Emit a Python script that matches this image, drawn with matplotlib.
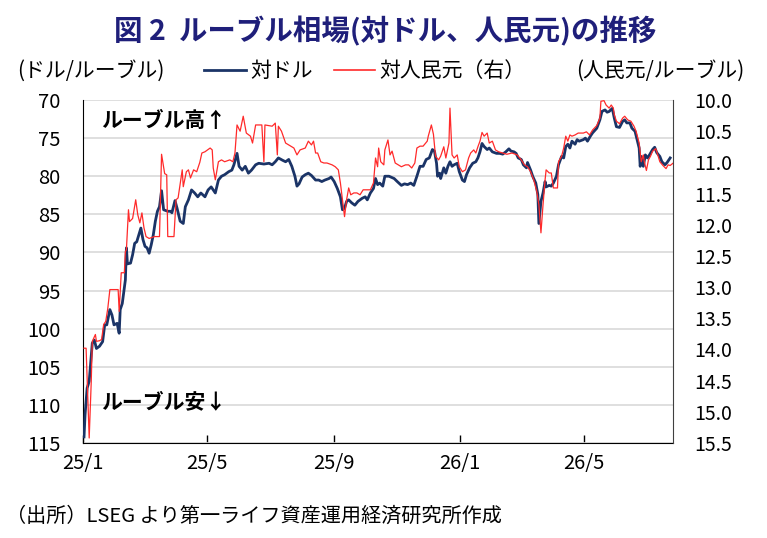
import matplotlib
matplotlib.use('Agg')
import matplotlib.pyplot as plt
import matplotlib.ticker as mticker
from matplotlib.lines import Line2D
import pandas as pd

# ルーブル/ドル (左軸)
usd_dates = [
    '2025-01-02', '2025-01-03', '2025-01-05', '2025-01-07', '2025-01-10', '2025-01-12', '2025-01-14', '2025-01-17', '2025-01-20', '2025-01-22', '2025-01-24', '2025-01-27', '2025-01-29', '2025-01-31',
    '2025-02-03', '2025-02-05', '2025-02-06', '2025-02-08', '2025-02-11', '2025-02-12', '2025-02-13', '2025-02-16', '2025-02-18', '2025-02-20', '2025-02-22', '2025-02-24', '2025-02-26', '2025-02-28',
    '2025-03-02', '2025-03-04', '2025-03-06', '2025-03-08', '2025-03-10', '2025-03-12', '2025-03-14', '2025-03-16', '2025-03-18', '2025-03-20', '2025-03-22', '2025-03-24', '2025-03-27', '2025-03-28', '2025-03-31',
    '2025-04-02', '2025-04-05', '2025-04-08', '2025-04-10', '2025-04-13', '2025-04-16', '2025-04-19', '2025-04-22', '2025-04-25', '2025-04-29',
    '2025-05-02', '2025-05-05', '2025-05-09', '2025-05-12', '2025-05-15', '2025-05-18', '2025-05-22', '2025-05-25', '2025-05-27', '2025-05-30',
    '2025-06-01', '2025-06-04', '2025-06-07', '2025-06-10', '2025-06-13', '2025-06-17', '2025-06-20', '2025-06-25', '2025-06-30',
    '2025-07-03', '2025-07-06', '2025-07-09', '2025-07-13', '2025-07-16', '2025-07-19', '2025-07-22', '2025-07-25', '2025-07-27', '2025-07-29',
    '2025-08-01', '2025-08-04', '2025-08-07', '2025-08-10', '2025-08-14', '2025-08-17', '2025-08-20', '2025-08-23', '2025-08-27', '2025-08-29',
    '2025-09-01', '2025-09-04', '2025-09-07', '2025-09-09', '2025-09-11', '2025-09-13', '2025-09-15', '2025-09-18', '2025-09-21', '2025-09-24', '2025-09-28',
    '2025-10-01', '2025-10-03', '2025-10-06', '2025-10-09', '2025-10-11', '2025-10-13', '2025-10-15', '2025-10-18', '2025-10-20', '2025-10-24', '2025-10-29',
    '2025-11-01', '2025-11-05', '2025-11-08', '2025-11-11', '2025-11-14', '2025-11-17', '2025-11-20', '2025-11-23', '2025-11-26', '2025-11-29',
    '2025-12-02', '2025-12-05', '2025-12-07', '2025-12-09', '2025-12-10', '2025-12-12', '2025-12-13', '2025-12-16', '2025-12-18', '2025-12-20', '2025-12-22', '2025-12-24', '2025-12-26', '2025-12-29', '2025-12-31',
    '2026-01-03', '2026-01-05', '2026-01-07', '2026-01-10', '2026-01-13', '2026-01-16', '2026-01-18', '2026-01-20', '2026-01-22', '2026-01-24', '2026-01-27', '2026-01-29',
    '2026-02-01', '2026-02-05', '2026-02-08', '2026-02-11', '2026-02-14', '2026-02-17', '2026-02-19', '2026-02-22', '2026-02-24', '2026-02-26',
    '2026-03-01', '2026-03-03', '2026-03-06', '2026-03-07', '2026-03-10', '2026-03-12', '2026-03-15', '2026-03-17', '2026-03-18', '2026-03-20', '2026-03-22', '2026-03-24', '2026-03-25', '2026-03-28', '2026-03-30',
    '2026-04-01', '2026-04-04', '2026-04-06', '2026-04-09', '2026-04-11', '2026-04-13', '2026-04-15', '2026-04-17', '2026-04-19', '2026-04-22', '2026-04-24', '2026-04-26', '2026-04-30',
    '2026-05-02', '2026-05-04', '2026-05-07', '2026-05-09', '2026-05-13', '2026-05-16', '2026-05-18', '2026-05-21', '2026-05-23', '2026-05-25', '2026-05-28', '2026-05-30',
    '2026-06-01', '2026-06-04', '2026-06-07', '2026-06-09', '2026-06-11', '2026-06-14', '2026-06-16', '2026-06-19', '2026-06-21', '2026-06-23', '2026-06-24', '2026-06-25', '2026-06-27', '2026-06-29',
    '2026-07-01', '2026-07-03', '2026-07-06', '2026-07-08', '2026-07-10', '2026-07-13', '2026-07-15', '2026-07-18', '2026-07-20', '2026-07-22', '2026-07-23',
]
usd_values = [
    114.2, 111.3, 107.8, 106.9, 101.9, 101.5, 102.6, 102.3, 101.7, 99.5, 99.5, 97.5, 98.2, 99.5,
    99.3, 100.6, 97.5, 96.7, 93.6, 89.4, 91.5, 91.4, 90.3, 88.8, 88.6, 87.7, 86.8, 88.3,
    89.2, 89.4, 90.1, 89.0, 87.7, 85.9, 84.6, 84.0, 81.9, 84.4, 84.5, 84.6, 84.6, 84.8, 83.2,
    84.2, 85.9, 86.2, 84.0, 83.1, 81.8, 82.2, 82.7, 82.2, 82.7,
    81.8, 81.4, 82.2, 80.5, 80.0, 79.8, 79.4, 79.2, 78.5, 77.0,
    78.7, 79.2, 78.7, 79.6, 79.2, 78.5, 78.3, 78.4, 78.3,
    78.5, 78.1, 77.6, 77.9, 78.1, 77.8, 78.7, 80.0, 81.3, 81.0,
    80.1, 79.8, 79.6, 79.9, 80.5, 80.5, 80.7, 80.5, 80.3, 80.1,
    80.7, 81.6, 82.7, 84.4, 84.2, 83.3, 83.1, 83.5, 83.8, 83.3, 82.9,
    82.7, 83.1, 82.2, 81.6, 80.3, 81.1, 80.9, 81.3, 80.0, 80.0, 80.3,
    80.7, 81.2, 81.0, 81.1, 80.9, 81.2, 80.0, 78.7, 78.7, 77.8,
    77.6, 76.5, 76.7, 78.3, 80.0, 79.6, 80.3, 78.9, 79.6, 78.7, 78.1, 78.7, 78.5, 78.3, 79.4,
    80.5, 80.7, 79.8, 78.9, 78.3, 78.1, 77.6, 76.8, 75.7, 76.1, 76.5, 76.3,
    76.8, 77.0, 77.0, 77.1, 76.8, 76.4, 76.7, 76.8, 77.0, 77.6,
    77.8, 78.5, 78.9, 78.2, 79.2, 80.0, 80.9, 82.4, 86.2, 83.3, 82.2, 80.7, 81.4, 81.2, 81.3,
    80.9, 80.0, 78.5, 77.4, 77.6, 76.1, 75.8, 76.3, 75.4, 75.8, 75.2, 75.4, 75.2,
    75.0, 75.4, 74.7, 74.3, 73.7, 72.6, 71.5, 71.3, 71.6, 71.5, 71.1, 72.4,
    73.5, 73.6, 72.8, 72.6, 73.0, 73.0, 73.7, 74.1, 75.2, 76.3, 78.7, 77.4, 78.7, 77.2,
    77.6, 77.2, 76.5, 76.2, 76.9, 77.4, 78.1, 78.5, 78.2, 77.8, 77.6,
]

# ルーブル/人民元 (右軸)
cny_dates = [
    '2025-01-02', '2025-01-04', '2025-01-07', '2025-01-09', '2025-01-10', '2025-01-13', '2025-01-14', '2025-01-17', '2025-01-19', '2025-01-21', '2025-01-23', '2025-01-25', '2025-01-27',
    '2025-02-04', '2025-02-05', '2025-02-07', '2025-02-10', '2025-02-11', '2025-02-12', '2025-02-14', '2025-02-15', '2025-02-18', '2025-02-21', '2025-02-23', '2025-02-25', '2025-02-27',
    '2025-03-01', '2025-03-03', '2025-03-06', '2025-03-11', '2025-03-16', '2025-03-18', '2025-03-21', '2025-03-23', '2025-03-24', '2025-03-30',
    '2025-04-01', '2025-04-03', '2025-04-05', '2025-04-07', '2025-04-08', '2025-04-11', '2025-04-13', '2025-04-15', '2025-04-18', '2025-04-21', '2025-04-24', '2025-04-26', '2025-04-29',
    '2025-05-04', '2025-05-06', '2025-05-07', '2025-05-09', '2025-05-12', '2025-05-15', '2025-05-18', '2025-05-23', '2025-05-26', '2025-05-28', '2025-05-30',
    '2025-06-02', '2025-06-05', '2025-06-08', '2025-06-12', '2025-06-14', '2025-06-17', '2025-06-23', '2025-06-25', '2025-06-26',
    '2025-07-03', '2025-07-06', '2025-07-08', '2025-07-09', '2025-07-12', '2025-07-16', '2025-07-19', '2025-07-24', '2025-07-27', '2025-07-30',
    '2025-08-04', '2025-08-07', '2025-08-10', '2025-08-12', '2025-08-14', '2025-08-16', '2025-08-19', '2025-08-22', '2025-08-25', '2025-08-30',
    '2025-09-02', '2025-09-05', '2025-09-07', '2025-09-09', '2025-09-11', '2025-09-13', '2025-09-15', '2025-09-17', '2025-09-20', '2025-09-23', '2025-09-26', '2025-09-29',
    '2025-10-06', '2025-10-09', '2025-10-11', '2025-10-13', '2025-10-14', '2025-10-16', '2025-10-19', '2025-10-20', '2025-10-23', '2025-10-25', '2025-10-27', '2025-10-30',
    '2025-11-02', '2025-11-05', '2025-11-09', '2025-11-12', '2025-11-15', '2025-11-18', '2025-11-20', '2025-11-23', '2025-11-26', '2025-11-30',
    '2025-12-01', '2025-12-04', '2025-12-06', '2025-12-08', '2025-12-11', '2025-12-13', '2025-12-16', '2025-12-18', '2025-12-21', '2025-12-22', '2025-12-24', '2025-12-26', '2025-12-29', '2025-12-31',
    '2026-01-03', '2026-01-06', '2026-01-09', '2026-01-11', '2026-01-14', '2026-01-16', '2026-01-18', '2026-01-20', '2026-01-22', '2026-01-24', '2026-01-27', '2026-01-29',
    '2026-02-01', '2026-02-04', '2026-02-07', '2026-02-11', '2026-02-15', '2026-02-20', '2026-02-25',
    '2026-03-01', '2026-03-04', '2026-03-07', '2026-03-10', '2026-03-13', '2026-03-16', '2026-03-18', '2026-03-20', '2026-03-22', '2026-03-24', '2026-03-25', '2026-03-28', '2026-03-30',
    '2026-04-01', '2026-04-05', '2026-04-06', '2026-04-09', '2026-04-11', '2026-04-13', '2026-04-15', '2026-04-17', '2026-04-19', '2026-04-22', '2026-04-25', '2026-04-30',
    '2026-05-03', '2026-05-06', '2026-05-09', '2026-05-13', '2026-05-16', '2026-05-17', '2026-05-20', '2026-05-22', '2026-05-25', '2026-05-27', '2026-05-29', '2026-05-30',
    '2026-06-01', '2026-06-04', '2026-06-07', '2026-06-09', '2026-06-12', '2026-06-15', '2026-06-18', '2026-06-20', '2026-06-23', '2026-06-25', '2026-06-27', '2026-06-28', '2026-06-30',
    '2026-07-02', '2026-07-04', '2026-07-06', '2026-07-09', '2026-07-11', '2026-07-13', '2026-07-16', '2026-07-19', '2026-07-21', '2026-07-23', '2026-07-26',
]
cny_values = [
    13.98, 13.98, 15.42, 14.51, 13.87, 13.76, 13.87, 13.86, 13.84, 13.60, 13.55, 13.34, 13.04,
    13.04, 13.39, 12.77, 12.77, 12.43, 12.40, 11.76, 11.95, 11.90, 11.60, 11.84, 11.97, 11.81,
    12.05, 12.19, 12.22, 12.19, 12.19, 10.87, 11.18, 11.20, 12.19, 12.19,
    11.60, 11.57, 11.35, 11.12, 11.39, 11.15, 11.12, 11.25, 11.12, 11.15, 11.00, 10.85, 10.83,
    10.77, 10.80, 11.09, 11.28, 10.99, 10.96, 10.99, 10.96, 10.99, 10.85, 10.40,
    10.50, 10.26, 10.53, 10.58, 10.69, 10.40, 10.40, 10.99, 10.40,
    10.42, 10.37, 10.88, 10.42, 10.50, 10.69, 10.72, 10.77, 10.88, 10.80,
    10.77, 10.66, 10.72, 10.66, 10.85, 10.85, 10.99, 11.01, 11.01, 11.04,
    11.07, 11.12, 11.33, 11.60, 11.87, 11.60, 11.41, 11.52, 11.49, 11.49, 11.52, 11.44,
    11.44, 11.33, 10.93, 11.07, 10.77, 10.99, 11.04, 10.80, 10.64, 10.88, 10.82, 11.01,
    11.04, 11.07, 11.04, 11.04, 11.09, 11.01, 10.77, 10.74, 10.74, 10.66,
    10.58, 10.40, 10.55, 10.90, 10.96, 10.90, 10.75, 10.93, 10.69, 10.13, 10.88, 10.93, 10.88, 11.07,
    11.15, 11.12, 10.93, 10.85, 10.80, 10.85, 10.75, 10.66, 10.52, 10.58, 10.53, 10.69,
    10.66, 10.80, 10.83, 10.85, 10.87, 10.85, 10.88,
    10.96, 11.04, 11.07, 11.15, 11.28, 11.47, 11.68, 12.13, 11.68, 11.28, 11.12, 11.17, 11.17,
    11.41, 11.41, 10.99, 10.90, 10.77, 10.58, 10.66, 10.56, 10.58, 10.56, 10.53, 10.53,
    10.51, 10.56, 10.48, 10.41, 10.29, 10.02, 10.01, 10.08, 10.13, 10.08, 10.13, 10.24,
    10.34, 10.38, 10.29, 10.26, 10.32, 10.34, 10.42, 10.50, 10.69, 10.99, 10.88, 10.99, 11.13,
    10.96, 10.90, 10.82, 10.78, 10.88, 10.99, 11.05, 11.10, 11.04, 11.05, 11.01,
]

tick_dates = ['2025-01-01', '2025-05-01', '2025-09-01', '2026-01-01', '2026-05-01']
tick_labels = ['25/1', '25/5', '25/9', '26/1', '26/5']
left_ticks = [70, 75, 80, 85, 90, 95, 100, 105, 110, 115]
right_ticks = [10.0, 10.5, 11.0, 11.5, 12.0, 12.5, 13.0, 13.5, 14.0, 14.5, 15.0, 15.5]

plt.rcParams['font.family'] = ['Noto Sans CJK JP', 'DejaVu Sans']

navy = '#1b3467'
red = '#ff2a2a'

fig = plt.figure(figsize=(7.67, 5.38), dpi=100)
ax = fig.add_axes([0.1082, 0.1766, 0.7696, 0.6375])
ax2 = ax.twinx()

ax.plot(pd.to_datetime(usd_dates), usd_values, color=navy, lw=2.0, zorder=3)
ax2.plot(pd.to_datetime(cny_dates), cny_values, color=red, lw=0.9)

ax.set_xlim(pd.Timestamp('2025-01-01'), pd.Timestamp('2026-07-26'))
ax.set_ylim(115, 70)
ax.set_yticks(left_ticks)
ax2.set_ylim(15.5, 10.0)
ax2.set_yticks(right_ticks)
ax2.yaxis.set_major_formatter(mticker.FormatStrFormatter('%.1f'))
ax.set_xticks(pd.to_datetime(tick_dates))
ax.set_xticklabels(tick_labels)

ax.yaxis.grid(True, color='#d9d9d9', lw=1.2)
ax.set_axisbelow(True)
ax.tick_params(axis='x', direction='in', length=6, width=1, pad=7, labelsize=14.5)
ax.tick_params(axis='y', length=0, pad=16, labelsize=14.5)
ax2.tick_params(axis='y', length=0, pad=15, labelsize=14)

for a in (ax, ax2):
    a.spines['top'].set_visible(False)
ax.spines['right'].set_visible(False)
ax2.spines['left'].set_visible(False)
ax2.spines['bottom'].set_visible(False)
ax.spines['left'].set_color('black')
ax.spines['bottom'].set_color('black')
ax2.spines['right'].set_color('#404040')
ax2.spines['right'].set_linewidth(0.8)

ax.text(0.03, 0.94, 'ルーブル高↑', transform=ax.transAxes, fontsize=15,
        fontweight='bold', va='center', ha='left')
ax.text(0.03, 0.12, 'ルーブル安↓', transform=ax.transAxes, fontsize=15,
        fontweight='bold', va='center', ha='left')

fig.text(0.502, 1 - 31 / 538, '図 2  ルーブル相場(対ドル、人民元)の推移', ha='center', va='center',
         fontsize=20.5, fontweight='bold', color='#1f1f7a')

fig.text(0.022, 1 - 71 / 538, '(ドル/ルーブル)', ha='left', va='center', fontsize=15)
fig.text(0.971, 1 - 71 / 538, '(人民元/ルーブル)', ha='right', va='center', fontsize=15)
handles = [Line2D([], [], color=navy, lw=2.0), Line2D([], [], color=red, lw=1.2)]
fig.legend(handles, ['対ドル', '対人民元（右）'], loc='center', bbox_to_anchor=(0.476, 1 - 71 / 538),
           ncol=2, frameon=False, fontsize=15, handlelength=2.0, handletextpad=0.2,
           columnspacing=1.0)

fig.text(0.008, 1 - 516 / 538, '（出所）LSEG より第一ライフ資産運用経済研究所作成', ha='left', va='center',
         fontsize=14.5)

fig.savefig('out.png', dpi=100)
